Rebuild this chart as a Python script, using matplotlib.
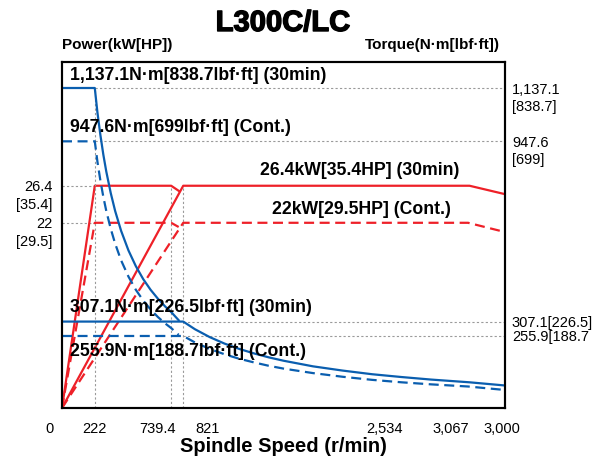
import matplotlib
matplotlib.use("Agg")
import matplotlib.pyplot as plt
import matplotlib.patheffects as pe

plt.rcParams['font.family'] = ['Liberation Sans', 'DejaVu Sans']

# x axis labels (as printed on the chart)
speed_tick_labels = ["0", "222", "739.4", "821", "2,534", "3,067", "3,000"]
# where each label sits along the axis (r/min scale)
speed_tick_pos = [-88, 223, 650, 988, 2187, 2634, 2979]

# power curves, kW
p30_low_speed = [0, 222, 739.4, 790]
p30_low_power = [0, 26.4, 26.4, 25.8]
p30_high_speed = [0, 821, 2760, 3000]
p30_high_power = [0, 26.4, 26.4, 25.4]
pc_low_speed = [0, 222, 739.4, 790]
pc_low_power = [0, 22, 22, 21.5]
pc_high_speed = [0, 821, 2750, 3000]
pc_high_power = [0, 22, 22, 20.9]

# torque curves, N·m
t30_low_speed = [0, 222, 240, 260, 280, 300, 330, 360, 400, 450, 500, 550, 600, 650, 700, 739.4, 790]
t30_low_torque = [1137.1, 1137.1, 1050, 970, 900, 840, 764, 700, 630, 560, 504, 458, 420, 388, 360, 341, 312]
t30_high_speed = [0, 821, 900, 1000, 1100, 1200, 1300, 1400, 1500, 1700, 1900, 2100, 2300, 2500, 2760, 3000]
t30_high_torque = [307.1, 307.1, 280, 252, 229, 210, 194, 180, 168, 148, 133, 120, 110, 101, 91.3, 80]
tc_low_speed = [0, 222, 240, 260, 280, 300, 330, 360, 400, 450, 500, 550, 600, 650, 700, 739.4, 790]
tc_low_torque = [947.6, 947.6, 875, 808, 750, 700, 637, 584, 525, 467, 420, 382, 350, 323, 300, 284, 260]
tc_high_speed = [0, 821, 900, 1000, 1100, 1200, 1300, 1400, 1500, 1700, 1900, 2100, 2300, 2500, 2750, 3000]
tc_high_torque = [255.9, 255.9, 233, 210, 191, 175, 162, 150, 140, 124, 111, 100, 91.3, 84, 76.4, 64]

power_marks = [26.4, 22]
power_marks_hp = ["[35.4]", "[29.5]"]
torque_marks = [1137.1, 947.6, 307.1, 255.9]
torque_tick_labels = ["1,137.1", "947.6", "307.1[226.5]", "255.9[188.7"]
torque_marks_lbf = ["[838.7]", "[699]", "", ""]

RED = '#EE2028'
BLUE = '#0A5EAF'
GRID = '#9A9A9A'
DASH = (0, (4.5, 2.5))

fig = plt.figure(figsize=(6.05, 4.62), dpi=100)
ax = fig.add_axes([62 / 605, 54 / 462, 443 / 605, 346 / 462])
ax2 = ax.twinx()

# reference dotted lines
dot = dict(color=GRID, lw=0.8, ls=(0, (2, 2)), zorder=1)
ax.plot([0, 222], [26.4, 26.4], **dot)
ax.plot([0, 222], [22, 22], **dot)
ax.plot([739.4, 739.4], [0, 26.4], **dot)
ax.plot([821, 821], [0, 26.4], **dot)
ax2.plot([222, 222], [0, 1137.1], **dot)
ax2.plot([222, 3000], [1137.1, 1137.1], **dot)
ax2.plot([222, 3000], [947.6, 947.6], **dot)
ax2.plot([821, 3000], [307.1, 307.1], **dot)
ax2.plot([821, 3000], [255.9, 255.9], **dot)

# power
ax.plot(p30_low_speed, p30_low_power, color=RED, lw=1.6, zorder=3)
ax.plot(p30_high_speed, p30_high_power, color=RED, lw=1.6, zorder=3)
ax.plot(pc_low_speed, pc_low_power, color=RED, lw=1.6, ls=DASH, zorder=3)
ax.plot(pc_high_speed, pc_high_power, color=RED, lw=1.6, ls=DASH, zorder=3)

# torque
ax2.plot(t30_low_speed, t30_low_torque, color=BLUE, lw=1.6)
ax2.plot(t30_high_speed, t30_high_torque, color=BLUE, lw=1.6)
ax2.plot(tc_low_speed, tc_low_torque, color=BLUE, lw=1.6, ls=DASH)
ax2.plot(tc_high_speed, tc_high_torque, color=BLUE, lw=1.6, ls=DASH)

# curve annotations
lab = dict(fontsize=12.7, fontweight='bold', va='center', color='black')
ax2.text(55, 1182, "1,137.1N·m[838.7lbf·ft] (30min)", ha='left', **lab)
ax2.text(55, 998, "947.6N·m[699lbf·ft] (Cont.)", ha='left', **lab)
ax.text(2018, 28.2, "26.4kW[35.4HP] (30min)", ha='center', **lab)
ax.text(2031, 23.6, "22kW[29.5HP] (Cont.)", ha='center', **lab)
ax2.text(55, 358, "307.1N·m[226.5lbf·ft] (30min)", ha='left', **lab)
ax2.text(55, 199, "255.9N·m[188.7lbf·ft] (Cont.)", ha='left', **lab)

# x labels placed by hand, as on the original sheet
ax.set_xticks([])
for p, s in zip(speed_tick_pos, speed_tick_labels):
    ax.annotate(s, xy=(p, 0), xycoords=('data', 'axes fraction'),
                xytext=(0, -15), textcoords='offset points',
                ha='center', va='center', fontsize=10.5, annotation_clip=False)

ax.set_yticks(power_marks)
ax.set_yticklabels([f"{v:g}" for v in power_marks], fontsize=10.5)
ax.tick_params(axis='y', length=0, pad=7)
for v, s in zip(power_marks, power_marks_hp):
    ax.annotate(s, xy=(0, v), xycoords=('axes fraction', 'data'),
                xytext=(-7, -13.5), textcoords='offset points',
                ha='right', va='center', fontsize=10.5)

ax2.set_yticks(torque_marks)
ax2.set_yticklabels(torque_tick_labels, fontsize=10.5)
ax2.tick_params(axis='y', length=0, pad=5)
for v, s in zip(torque_marks, torque_marks_lbf):
    if s:
        ax2.annotate(s, xy=(1, v), xycoords=('axes fraction', 'data'),
                     xytext=(5, -13.5), textcoords='offset points',
                     ha='left', va='center', fontsize=10.5)

ax.set_xlim(0, 3000)
ax.set_ylim(0, 41.1)
ax2.set_ylim(0, 1229.5)

for a in (ax, ax2):
    for sp in a.spines.values():
        sp.set_linewidth(1.5)
        sp.set_color('black')

fig.text(283 / 605, 1 - 23 / 462, "L300C/LC", ha='center', va='center',
         fontsize=21, fontweight='bold',
         path_effects=[pe.withStroke(linewidth=1.0, foreground='black')])
fig.text(62 / 605, 1 - 45 / 462, "Power(kW[HP])", ha='left', va='center',
         fontsize=11, fontweight='bold')
fig.text(500 / 605, 1 - 45 / 462, "Torque(N·m[lbf·ft])", ha='right', va='center',
         fontsize=11, fontweight='bold')
fig.text(283 / 605, 1 - 447 / 462, "Spindle Speed (r/min)", ha='center', va='center',
         fontsize=14.5, fontweight='bold')

fig.savefig("out.png", dpi=100)
